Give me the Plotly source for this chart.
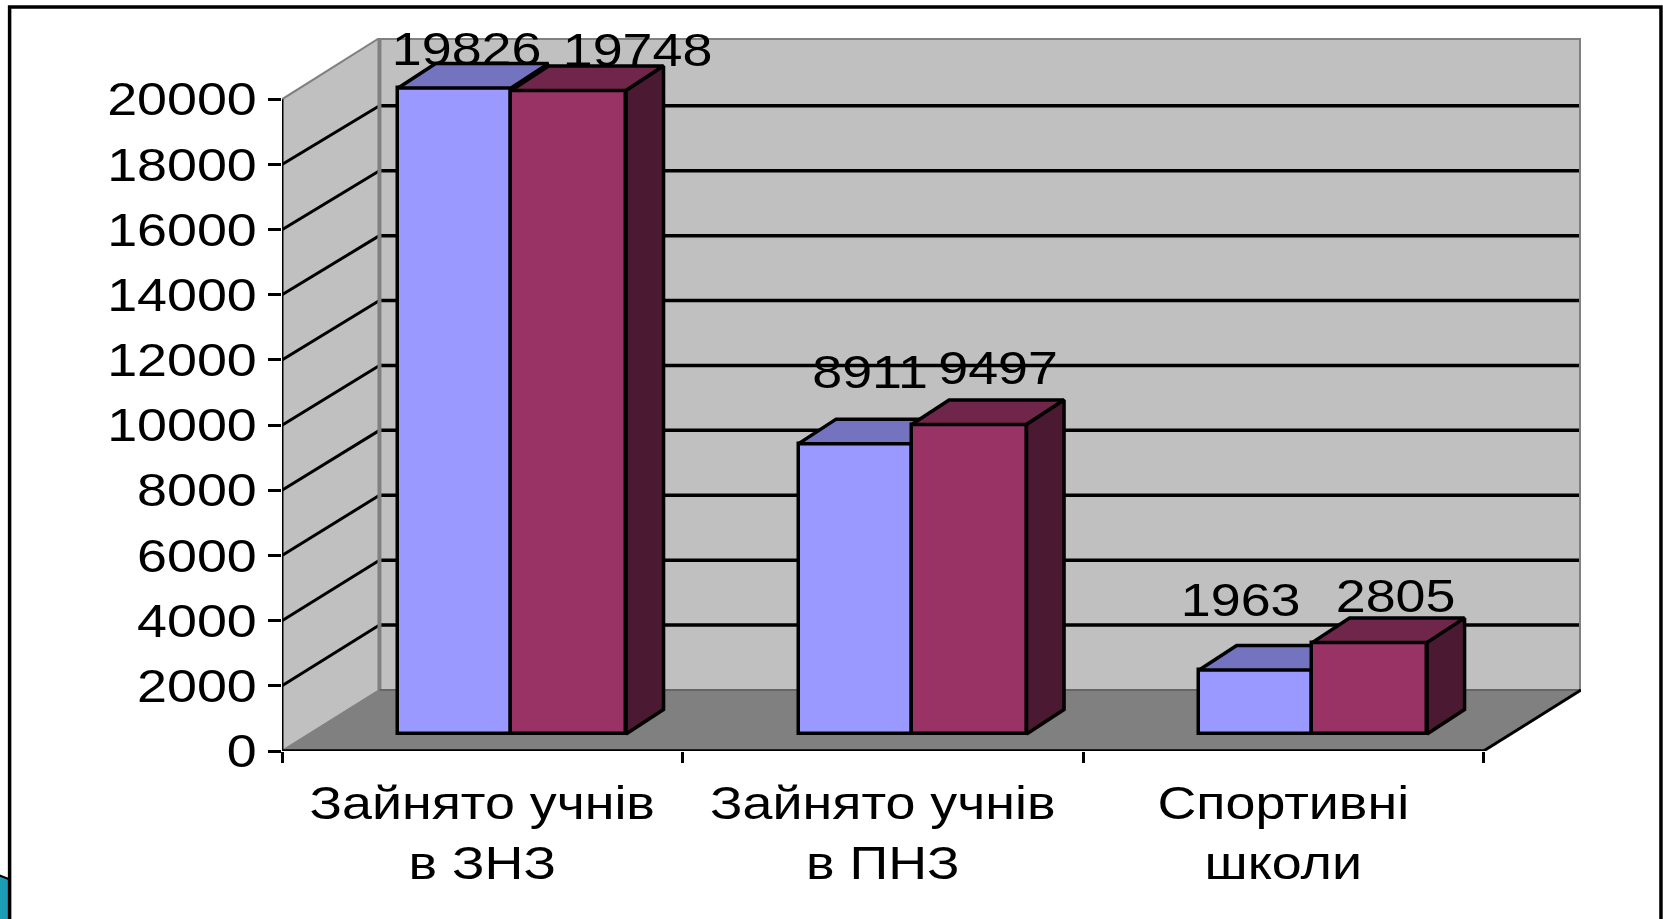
import plotly.graph_objects as go

# ---- data ----
categories = ["Зайнято учнів<br>в ЗНЗ", "Зайнято учнів<br>в ПНЗ", "Спортивні<br>школи"]
series_a = [19826, 8911, 1963]
series_b = [19748, 9497, 2805]
y_ticks = list(range(0, 20001, 2000))

# ---- geometry (axis units) ----
W, H = 1663, 919
L, R, T, B = 281.5, 1581, 38, 751
PX_X = (1483.5 - 281.5) / 3            # pixels per category
PX_Y = (751 - 99.3) / 20000            # pixels per value unit
XMAX = (R - L) / PX_X
YMAX = (B - T) / PX_Y
WALL_DX = (379 - L) / PX_X
WALL_DY = (B - 690) / PX_Y
GRID_K = 0.996
DEPTH_X = 37.5 / PX_X
DEPTH_Y = 24.5 / PX_Y
BASE = 17 / PX_Y
BAR_W_A = 113 / PX_X
BAR_W_B = 115 / PX_X
SPLIT = 0.072

FONT = "Liberation Sans, Arial, sans-serif"
FS = 46
STRETCH = 1.17
WALL, FLOOR, EDGE = "#C0C0C0", "#808080", "#808080"
A_FRONT, A_TOP = "#9999FF", "#7373BF"
B_FRONT, B_TOP, B_SIDE = "#993366", "#70264A", "#4C1933"

# label offsets from bar centre / bar top, in pixels
A_LABEL_DX, A_LABEL_DY = [12, 15, -15], [34, 67, 66]
B_LABEL_DX, B_LABEL_DY = [69, 29, 26], [36, 52, 42]

centers = [i + 0.5 for i in range(len(categories))]


def poly(xs, ys, fill, line=None, width=0, **kw):
    return go.Scatter(
        x=list(xs) + [xs[0]], y=list(ys) + [ys[0]], mode="lines", fill="toself",
        fillcolor=fill, line=dict(color=line or fill, width=width),
        cliponaxis=False, hoverinfo="skip", showlegend=False, **kw)


def lines(segs, color, width, **kw):
    xs, ys = [], []
    for (x0, y0, x1, y1) in segs:
        xs += [x0, x1, None]
        ys += [y0, y1, None]
    return go.Scatter(x=xs, y=ys, mode="lines", line=dict(color=color, width=width),
                      cliponaxis=False, hoverinfo="skip", showlegend=False, **kw)


fig = go.Figure()

# walls and floor
fig.add_trace(poly([WALL_DX, XMAX, XMAX, WALL_DX], [WALL_DY, WALL_DY, YMAX, YMAX], WALL))
fig.add_trace(poly([0, WALL_DX, WALL_DX, 0], [0, WALL_DY, 20000 + WALL_DY, 20000], WALL))
fig.add_trace(poly([0, 3, XMAX, WALL_DX], [0, 0, WALL_DY, WALL_DY], FLOOR))

# gridlines
grid_vals = [v for v in y_ticks if 0 < v < 20000]
fig.add_trace(lines([(WALL_DX, v * GRID_K + WALL_DY, XMAX, v * GRID_K + WALL_DY) for v in grid_vals], "black", 3.5))
fig.add_trace(lines([(0, v, WALL_DX, v * GRID_K + WALL_DY) for v in grid_vals], "black", 3))

# wall edges
fig.add_trace(lines([(WALL_DX, YMAX, XMAX, YMAX), (XMAX, YMAX, XMAX, WALL_DY),
                     (WALL_DX, YMAX, WALL_DX, WALL_DY)], EDGE, 4))
fig.add_trace(lines([(0, 20000, WALL_DX, YMAX), (0, 0, WALL_DX, WALL_DY)], EDGE, 2))
fig.add_trace(lines([(WALL_DX, WALL_DY, XMAX, WALL_DY)], "#666666", 2))

# axis lines and right floor edge
fig.add_trace(lines([(0, 0, 0, 20000)], "black", 3))
fig.add_trace(lines([(3, 0, XMAX, WALL_DY)], "black", 3))
fig.add_trace(lines([(0, 0, 3, 0)], "black", 3.5))

splits = [c + SPLIT for c in centers]
a_x = [s - BAR_W_A / 2 for s in splits]
b_x = [s + BAR_W_B / 2 for s in splits]
outline = dict(color="black", width=3.5)

# series A, above the walls
ov_a = dict(xaxis="x2", yaxis="y2")
fig.add_trace(go.Bar(x=a_x, y=series_a, base=BASE, width=BAR_W_A, marker=dict(color=A_FRONT, line=outline),
                     hoverinfo="skip", showlegend=False, **ov_a))
for x, v in zip(a_x, series_a):
    x0, x1, top = x - BAR_W_A / 2, x + BAR_W_A / 2, v + BASE
    fig.add_trace(poly([x0, x1, x1 + DEPTH_X, x0 + DEPTH_X], [top, top, top + DEPTH_Y, top + DEPTH_Y],
                       A_TOP, "black", 3.5, **ov_a))

# series B, above series A
ov_b = dict(xaxis="x3", yaxis="y3")
fig.add_trace(go.Bar(x=b_x, y=series_b, base=BASE, width=BAR_W_B, marker=dict(color=B_FRONT, line=outline),
                     hoverinfo="skip", showlegend=False, **ov_b))
for x, v in zip(b_x, series_b):
    x0, x1, top = x - BAR_W_B / 2, x + BAR_W_B / 2, v + BASE
    fig.add_trace(poly([x0, x1, x1 + DEPTH_X, x0 + DEPTH_X], [top, top, top + DEPTH_Y, top + DEPTH_Y],
                       B_TOP, "black", 3.5, **ov_b))
    fig.add_trace(poly([x1, x1 + DEPTH_X, x1 + DEPTH_X, x1], [BASE, BASE + DEPTH_Y, top + DEPTH_Y, top],
                       B_SIDE, "black", 3.5, **ov_b))

# data labels
for xs, vals, dxs, dys in ((a_x, series_a, A_LABEL_DX, A_LABEL_DY), (b_x, series_b, B_LABEL_DX, B_LABEL_DY)):
    fig.add_trace(go.Scatter(
        x=[x + dx / PX_X for x, dx in zip(xs, dxs)],
        y=[v + BASE + dy / PX_Y for v, dy in zip(vals, dys)],
        mode="text", text=[str(v) for v in vals], textposition="middle center",
        textfont=dict(family=FONT, size=FS, color="black"),
        cliponaxis=False, hoverinfo="skip", showlegend=False, **ov_b))


# page decoration, in page pixels
def px(x):
    return (x - L) / (R - L)


def py(y):
    return (B - y) / (B - T)


def path(points, close=False):
    d = "M " + " L ".join(f"{px(x)} {py(y)}" for x, y in points)
    return d + (" Z" if close else "")


shapes = [
    dict(type="path", xref="paper", yref="paper", path=path([(-2, 875), (8, 879), (8, 925), (-2, 925)], True),
         fillcolor="#1A9DB5", line=dict(width=0), layer="above"),
    dict(type="path", xref="paper", yref="paper", path=path([(-2, 875), (8, 879)]),
         line=dict(color="black", width=2), layer="above"),
    dict(type="path", xref="paper", yref="paper", path=path([(9, 925), (9, 7), (1661, 7), (1661, 925)]),
         line=dict(color="black", width=3.5), layer="above"),
]

hidden = dict(range=[0, XMAX], visible=False, fixedrange=True)
hidden_y = dict(range=[0, YMAX], visible=False, fixedrange=True)
fig.update_layout(
    width=W, height=H, autosize=False,
    margin=dict(l=L, r=W - R, t=T, b=H - B, pad=0),
    paper_bgcolor="white", plot_bgcolor="white",
    barmode="overlay", bargap=0, showlegend=False,
    shapes=shapes,
    xaxis=dict(
        range=[0, XMAX], tickmode="array", tickvals=centers, ticktext=categories,
        ticks="", showgrid=False, zeroline=False, showline=False, fixedrange=True,
        tickfont=dict(family=FONT, size=FS, color="black"), ticklabelstandoff=21,
        minor=dict(tickmode="array", tickvals=[0, 1, 2, 3], ticks="outside", ticklen=11,
                   tickwidth=3, tickcolor="black", showgrid=False),
    ),
    yaxis=dict(
        range=[0, YMAX], tickmode="array", tickvals=y_ticks, ticktext=[str(v) for v in y_ticks],
        ticks="outside", ticklen=13, tickwidth=3, tickcolor="black",
        showgrid=False, zeroline=False, showline=False, fixedrange=True,
        tickfont=dict(family=FONT, size=FS, color="black"), ticklabelstandoff=2,
    ),
    xaxis2=dict(overlaying="x", **hidden),
    yaxis2=dict(overlaying="y", **hidden_y),
    xaxis3=dict(overlaying="x", **hidden),
    yaxis3=dict(overlaying="y", **hidden_y),
)

# the reference text is wider than it is tall: stretch every label sideways around its anchor
stretch_js = """
document.body.style.margin='0';document.body.style.overflow='hidden';
document.querySelectorAll('.main-svg text').forEach(function(t){
  var b=t.getBBox();
  var a=getComputedStyle(t).textAnchor;
  var cx=(a==='end')?b.x+b.width:b.x+b.width/2;
  var prior=t.getAttribute('transform')||'';
  t.setAttribute('transform',prior+' translate('+cx+',0) scale(%s,1) translate('+(-cx)+',0)');
});
""" % STRETCH

fig.write_html("out.html", post_script=stretch_js, config=dict(displayModeBar=False))
